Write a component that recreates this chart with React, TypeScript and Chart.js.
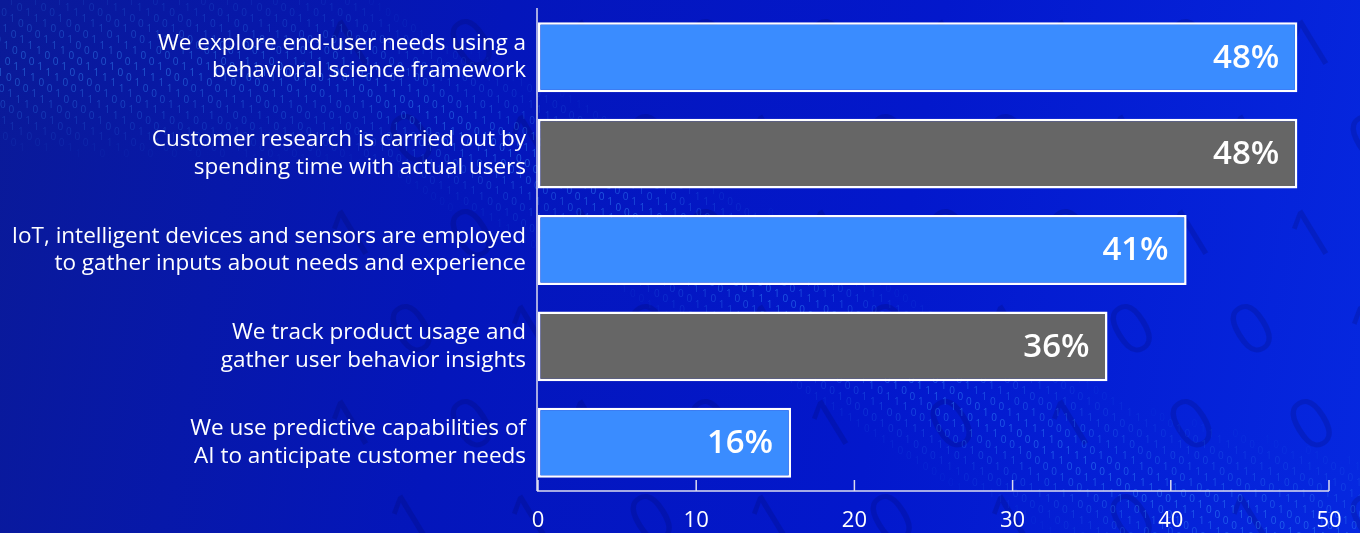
import React, { useEffect, useRef } from "react";
import { Chart, registerables } from "chart.js";

Chart.register(...registerables);

const categories: string[][] = [
  ["We explore end-user needs using a", "behavioral science framework"],
  ["Customer research is carried out by", "spending time with actual users"],
  ["IoT, intelligent devices and sensors are employed", "to gather inputs about needs and experience"],
  ["We track product usage and", "gather user behavior insights"],
  ["We use predictive capabilities of", "AI to anticipate customer needs"],
];
const values: number[] = [48, 48, 41, 36, 16];
const barColors: string[] = ["#3a8cff", "#666666", "#3a8cff", "#666666", "#3a8cff"];
const xTicks: number[] = [0, 10, 20, 30, 40, 50];

const FONT = "'Open Sans', 'Noto Sans', sans-serif";

function bandCenter(x: number): number {
  const pts = [
    [0, 70],
    [350, 80],
    [600, 200],
    [900, 380],
    [1150, 500],
    [1400, 560],
  ];
  for (let i = 0; i < pts.length - 1; i++) {
    const [x0, y0] = pts[i];
    const [x1, y1] = pts[i + 1];
    if (x <= x1) return y0 + ((x - x0) / (x1 - x0)) * (y1 - y0);
  }
  return 560;
}

const decorPlugin = {
  id: "decor",
  beforeDraw(chart: any) {
    const ctx = chart.ctx as CanvasRenderingContext2D;
    const w = chart.width;
    const h = chart.height;
    ctx.save();
    ctx.font = "70px " + FONT;
    ctx.fillStyle = "rgba(0,0,70,0.16)";
    const big = "1010011010";
    let b = 0;
    for (let gy = -20; gy < h + 60; gy += 95) {
      for (let gx = 300 + ((gy / 95) % 2) * 60; gx < w + 60; gx += 120) {
        ctx.save();
        ctx.translate(gx, gy);
        ctx.rotate(-0.55);
        ctx.fillText(big[b++ % big.length], 0, 0);
        ctx.restore();
      }
    }
    const seq = "10010110100111010010101100110";
    ctx.font = "10px " + FONT;
    for (let s = -40; s < 60; s++) {
      let idx = 0;
      for (let t = 0; t < 1200; t += 10) {
        const x = s * 24 + t * 0.84;
        const y = t * 0.54;
        idx++;
        if (x < -10 || x > w + 10 || y > h + 10) continue;
        const d = Math.abs(y - bandCenter(x));
        if (d > 85) continue;
        const alpha = 0.5 * (1 - d / 95);
        ctx.fillStyle = "rgba(60,150,255," + alpha.toFixed(3) + ")";
        ctx.fillText(seq[(Math.abs(s) * 7 + idx * 3) % seq.length], x, y);
      }
    }
    ctx.restore();
  },
};

const valuePlugin = {
  id: "values",
  afterDatasetsDraw(chart: any) {
    const ctx = chart.ctx as CanvasRenderingContext2D;
    const meta = chart.getDatasetMeta(0);
    ctx.save();
    ctx.fillStyle = "#ffffff";
    ctx.font = "600 33px " + FONT;
    ctx.textAlign = "right";
    ctx.textBaseline = "middle";
    meta.data.forEach((bar: any, i: number) => {
      ctx.fillText(values[i] + "%", bar.x - 18, bar.y + 1);
    });
    ctx.restore();
  },
  afterDraw(chart: any) {
    const ctx = chart.ctx as CanvasRenderingContext2D;
    const xs = chart.scales.x;
    const area = chart.chartArea;
    ctx.save();
    ctx.strokeStyle = "#dcdcf0";
    ctx.lineWidth = 1.5;
    ctx.beginPath();
    ctx.moveTo(area.left - 1, 8);
    ctx.lineTo(area.left - 1, area.bottom);
    ctx.moveTo(area.left - 1, area.bottom);
    ctx.lineTo(xs.getPixelForValue(50), area.bottom);
    xTicks.forEach((t) => {
      const px = xs.getPixelForValue(t);
      ctx.moveTo(px, area.bottom);
      ctx.lineTo(px, area.bottom - 11);
    });
    ctx.stroke();
    ctx.restore();
  },
};

export default function App() {
  const ref = useRef<HTMLCanvasElement | null>(null);
  useEffect(() => {
    document.body.style.margin = "0";
    if (!ref.current) return;
    const chart = new Chart(ref.current, {
      type: "bar",
      data: {
        labels: categories,
        datasets: [
          {
            data: values,
            backgroundColor: barColors,
            borderColor: "#ffffff",
            borderWidth: 2.5,
            borderSkipped: false,
            categoryPercentage: 1,
            barPercentage: 0.725,
          },
        ],
      },
      options: {
        indexAxis: "y",
        animation: false,
        responsive: false,
        maintainAspectRatio: false,
        layout: { padding: { top: 9, right: 31, bottom: 0, left: 0 } },
        plugins: { legend: { display: false }, tooltip: { enabled: false } },
        scales: {
          x: {
            min: 0,
            max: 50,
            afterBuildTicks(scale: any) {
              scale.ticks = xTicks.map((v) => ({ value: v }));
            },
            afterFit(scale: any) {
              scale.paddingLeft = 0;
              scale.paddingRight = 0;
              scale.paddingTop = 0;
              scale.paddingBottom = 0;
              scale.height = 42;
            },
            grid: { display: false, drawTicks: false },
            border: { display: false },
            ticks: {
              color: "#ffffff",
              font: { family: FONT, size: 22 },
              padding: 17,
              maxRotation: 0,
            },
          },
          y: {
            afterFit(scale: any) {
              scale.width = 538;
              scale.paddingTop = 0;
              scale.paddingBottom = 0;
            },
            grid: { display: false, drawTicks: false },
            border: { display: false },
            ticks: {
              color: "#ffffff",
              font: { family: FONT, size: 22.5, lineHeight: 1.22 },
              padding: 12,
            },
          },
        },
      },
      plugins: [decorPlugin, valuePlugin],
    });
    return () => chart.destroy();
  }, []);
  return (
    <div
      style={{
        width: 1360,
        height: 533,
        background:
          "linear-gradient(100deg, #0a1a98 0%, #0416bb 35%, #0318cc 65%, #0628e0 100%)",
        overflow: "hidden",
      }}
    >
      <canvas ref={ref} width={1360} height={533} style={{ display: "block" }} />
    </div>
  );
}
